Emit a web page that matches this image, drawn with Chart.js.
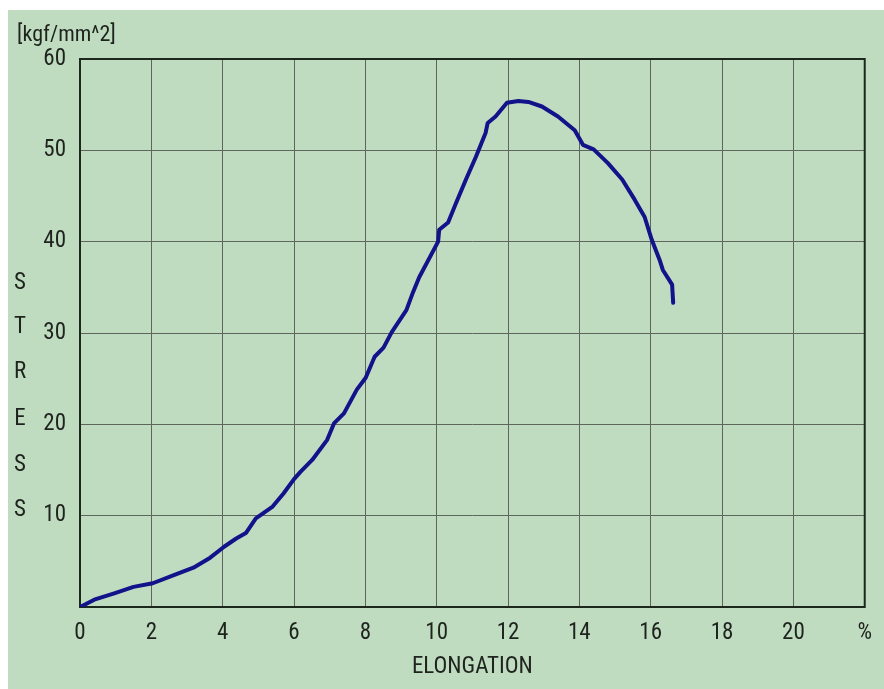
<!DOCTYPE html>
<html><head><meta charset="utf-8">
<style>html,body{margin:0;padding:0;background:#fff;}canvas{display:block}</style>
<script src="https://cdn.jsdelivr.net/npm/chart.js@4"></script>
</head>
<body>
<canvas id="c" width="884" height="689" style="width:884px;height:689px"></canvas>
<script>
// Data
const elongation = [0, 0.1, 0.4, 0.96, 1.5, 2.04, 2.63, 3.18, 3.65, 4.04, 4.38, 4.65, 4.93, 5.4, 5.7, 6.0, 6.18, 6.51, 6.93, 7.12, 7.4, 7.76, 8.01, 8.26, 8.51, 8.74, 9.15, 9.34, 9.51, 10.04, 10.07, 10.32, 10.54, 10.82, 11.1, 11.37, 11.43, 11.65, 11.97, 12.29, 12.57, 12.95, 13.4, 13.87, 14.1, 14.4, 14.8, 15.2, 15.55, 15.83, 16.03, 16.25, 16.34, 16.6, 16.63];
const stress = [0, 0.2, 0.8, 1.5, 2.2, 2.6, 3.5, 4.3, 5.4, 6.6, 7.5, 8.1, 9.7, 11.0, 12.4, 14.0, 14.8, 16.1, 18.3, 20.1, 21.2, 23.8, 25.1, 27.4, 28.4, 30.1, 32.5, 34.5, 36.1, 40.0, 41.3, 42.1, 44.2, 46.8, 49.3, 51.9, 53.0, 53.7, 55.2, 55.4, 55.3, 54.8, 53.7, 52.2, 50.6, 50.1, 48.6, 46.8, 44.6, 42.7, 40.2, 38.0, 36.9, 35.3, 33.3];

const xTickValues = [0, 2, 4, 6, 8, 10, 12, 14, 16, 18, 20, 22];
const xTickLabels = ['0', '2', '4', '6', '8', '10', '12', '14', '16', '18', '20', '%'];
const yTickValues = [0, 10, 20, 30, 40, 50, 60];
const yTickLabels = ['', '10', '20', '30', '40', '50', '60'];
const yTitleLetters = ['S', 'T', 'R', 'E', 'S', 'S'];
const unitText = '[kgf/mm^2]';
const xTitleText = 'ELONGATION';

const FONT = "'Roboto Condensed', sans-serif";
const TEXT_COLOR = '#1e231e';
const GREEN = '#c0dcc0';
const GRID = '#5d655d';
const BORDER = '#1c281c';

const points = elongation.map((x, i) => ({x: x, y: stress[i]}));

const framePlugin = {
  id: 'frame',
  beforeDraw(chart) {
    const ctx = chart.ctx;
    ctx.save();
    ctx.fillStyle = '#ffffff';
    ctx.fillRect(0, 0, chart.width, chart.height);
    ctx.fillStyle = GREEN;
    ctx.fillRect(8, 10, chart.width - 8, chart.height - 10);
    ctx.restore();
  },
  beforeDatasetsDraw(chart) {
    const ctx = chart.ctx, a = chart.chartArea;
    ctx.save();
    ctx.strokeStyle = BORDER;
    ctx.lineWidth = 2;
    ctx.strokeRect(a.left, a.top, a.right - a.left, a.bottom - a.top);
    ctx.restore();
  },
  afterDraw(chart) {
    const ctx = chart.ctx;
    ctx.save();
    ctx.fillStyle = TEXT_COLOR;
    ctx.font = '22px ' + FONT;
    ctx.textBaseline = 'middle';
    ctx.textAlign = 'left';
    ctx.fillText(unitText, 17, 35);
    ctx.font = '23px ' + FONT;
    ctx.textAlign = 'center';
    const ys = [283, 327, 372, 419, 465, 510];
    yTitleLetters.forEach((L, i) => ctx.fillText(L, 20, ys[i]));
    ctx.restore();
  }
};

new Chart(document.getElementById('c'), {
  type: 'line',
  data: {
    datasets: [{
      data: points,
      borderColor: '#12128a',
      borderWidth: 4,
      borderJoinStyle: 'round',
      borderCapStyle: 'round',
      pointRadius: 0,
      tension: 0,
      fill: false
    }]
  },
  options: {
    responsive: false,
    animation: false,
    devicePixelRatio: 1,
    layout: {padding: {left: 0, top: 59, right: 12, bottom: 0}},
    plugins: {legend: {display: false}, tooltip: {enabled: false}},
    scales: {
      x: {
        type: 'linear', min: 0, max: 22,
        afterBuildTicks(s) { s.ticks = xTickValues.map(v => ({value: v})); },
        afterFit(s) { s.height = 82; },
        ticks: {
          autoSkip: false, maxRotation: 0, padding: 12,
          color: TEXT_COLOR, font: {family: FONT, size: 23},
          callback(v) { const i = xTickValues.indexOf(v); return i >= 0 ? xTickLabels[i] : ''; }
        },
        grid: {color: GRID, lineWidth: 1, drawTicks: false},
        border: {display: false},
        title: {display: true, text: xTitleText, color: TEXT_COLOR, font: {family: FONT, size: 23}, padding: {top: 0, bottom: 8}}
      },
      y: {
        type: 'linear', min: 0, max: 60,
        afterBuildTicks(s) { s.ticks = yTickValues.map(v => ({value: v})); },
        afterFit(s) { s.width = 80; },
        ticks: {
          autoSkip: false, padding: 14,
          color: TEXT_COLOR, font: {family: FONT, size: 23},
          callback(v) { const i = yTickValues.indexOf(v); return i >= 0 ? yTickLabels[i] : ''; }
        },
        grid: {color: GRID, lineWidth: 1, drawTicks: false},
        border: {display: false}
      }
    }
  },
  plugins: [framePlugin]
});
</script>
</body></html>
